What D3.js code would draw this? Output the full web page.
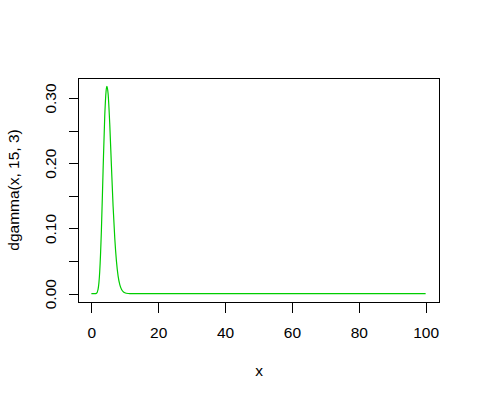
<!DOCTYPE html>
<html><head><meta charset="utf-8">
<script src="https://cdn.jsdelivr.net/npm/d3@7"></script>
<style>body{margin:0;background:#fff}svg{display:block}text{font-family:Arial,"Liberation Sans",sans-serif;fill:#000}</style>
</head><body>
<script>
// values (density curve)
const xs = [0, 0.5, 1, 1.5, 2, 2.5, 3, 3.5, 4, 4.5, 4.67, 5, 5.5, 6, 6.5, 7, 7.5, 8, 8.5, 9, 9.5, 10, 11, 12, 100];
const ys = [0, 0, 0.00001, 0.0005, 0.0067, 0.034, 0.097, 0.188, 0.272, 0.315, 0.318, 0.307, 0.260, 0.196, 0.134, 0.085, 0.050, 0.027, 0.014, 0.007, 0.0033, 0.0015, 0.0003, 0, 0];
const xTicks = [0, 20, 40, 60, 80, 100];
const yTicks = [0, 0.05, 0.10, 0.15, 0.20, 0.25, 0.30];
const yLabeled = [0, 0.10, 0.20, 0.30];
const xTitle = "x", yTitle = "dgamma(x, 15, 3)";

const W = 480, H = 400;
const L = 78, R = 439, T = 78, B = 302;
const svg = d3.select("body").append("svg").attr("width", W).attr("height", H);

const x = d3.scaleLinear().domain([-4, 104]).range([L, R]);
const ymax = d3.max(ys), ext = ymax * 0.04;
const y = d3.scaleLinear().domain([-ext, ymax + ext]).range([B, T]);

svg.append("rect").attr("x", L + 0.5).attr("y", T + 0.5).attr("width", R - L).attr("height", B - T)
  .attr("fill", "none").attr("stroke", "#000").attr("stroke-width", 1).attr("shape-rendering", "crispEdges");

const data = xs.map((v, i) => [v, ys[i]]);
svg.append("path").datum(data)
  .attr("d", d3.line().x(d => x(d[0])).y(d => y(d[1])).curve(d3.curveMonotoneX))
  .attr("fill", "none").attr("stroke", "#00CD00").attr("stroke-width", 1.2);

// x axis
const xa = svg.append("g").attr("transform", `translate(0,${B + 0.5})`)
  .call(d3.axisBottom(x).tickValues(xTicks).tickSize(10).tickPadding(12).tickFormat(d3.format("d")));
xa.select(".domain").attr("d", `M${x(xTicks[0])},0H${x(xTicks[xTicks.length-1])}`).attr("stroke", "none");
xa.selectAll(".tick line").attr("stroke", "#000").attr("shape-rendering", "crispEdges");
xa.selectAll(".tick text").attr("font-size", 15.5).attr("font-family", "Arial, 'Liberation Sans', sans-serif").attr("dy", null).attr("y", 35);

// y axis
const ya = svg.append("g").attr("transform", `translate(${L + 0.5},0)`)
  .call(d3.axisLeft(y).tickValues(yTicks).tickSize(10).tickFormat(d => yLabeled.some(v => Math.abs(v - d) < 1e-9) ? d3.format(".2f")(d) : ""));
ya.select(".domain").attr("stroke", "none");
ya.selectAll(".tick line").attr("stroke", "#000").attr("shape-rendering", "crispEdges");
ya.selectAll(".tick text").attr("font-size", 15.5).attr("font-family", "Arial, 'Liberation Sans', sans-serif")
  .attr("x", null).attr("dy", null).attr("text-anchor", "middle")
  .attr("transform", "translate(-23,0) rotate(-90)");

svg.append("text").attr("x", (L + R) / 2 + 0.5).attr("y", 376).attr("text-anchor", "middle").attr("font-size", 15.5).text(xTitle);
svg.append("text").attr("transform", `translate(19,${(T + B) / 2}) rotate(-90)`).attr("text-anchor", "middle").attr("font-size", 15.5).text(yTitle);
</script>
</body></html>
